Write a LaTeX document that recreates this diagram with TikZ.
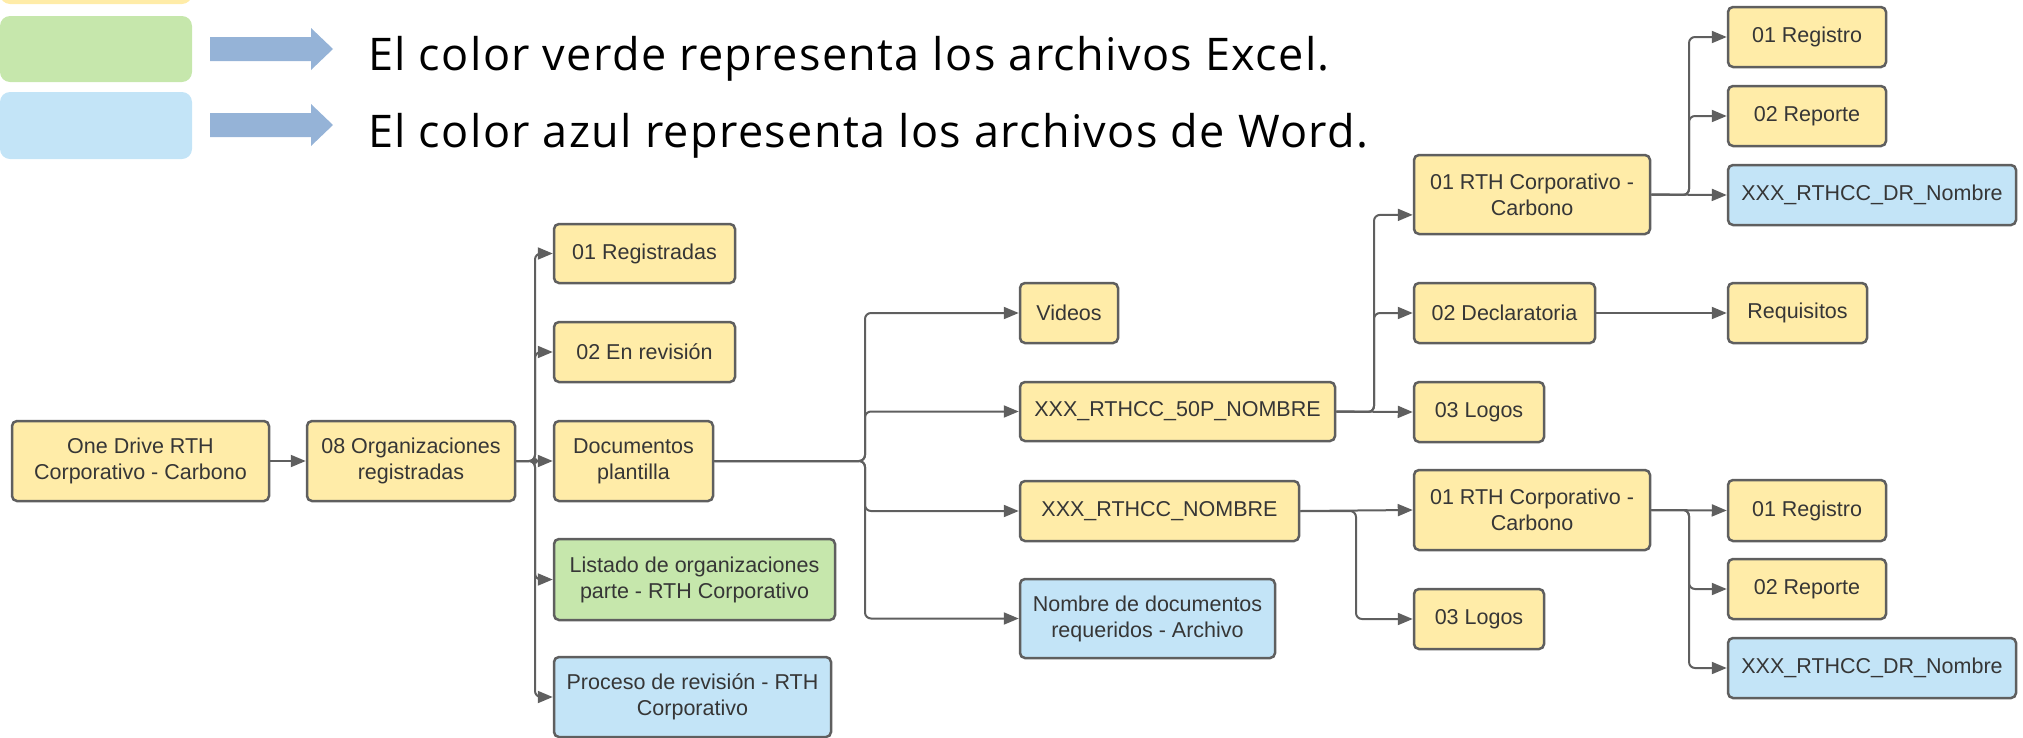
\documentclass[tikz,border=0pt]{standalone}
\usepackage{fontspec}
\setmainfont{Liberation Sans}
\newfontfamily\legendfont[LetterSpace=3]{Open Sans}
\usetikzlibrary{arrows.meta, calc}

\definecolor{fileyellow}{HTML}{FFECA8}
\definecolor{filegreen}{HTML}{C6E7AC}
\definecolor{fileblue}{HTML}{C3E4F7}
\definecolor{boxline}{HTML}{5F5F5F}
\definecolor{boxtext}{HTML}{363636}
\definecolor{legendarrow}{HTML}{95B3D7}

\begin{document}
\begin{tikzpicture}[x=1pt, y=-1pt, >={Triangle[length=15pt,width=12pt]}]

  % Styles for folders (yellow), Excel files (green) and Word files (blue)
  \tikzset{
    folder/.style={draw=boxline, line width=2.5pt, rounded corners=5pt, fill=fileyellow,
      text=boxtext, align=center, inner sep=0pt, font=\fontsize{21.5}{26}\selectfont},
    excel/.style={folder, fill=filegreen},
    word/.style={folder, fill=fileblue},
    link/.style={->, draw=boxline, line width=2pt, rounded corners=6pt},
    note/.style={anchor=base west, inner sep=0pt, font=\legendfont\fontsize{45}{50}\selectfont}
  }

  \useasboundingbox (0,0) rectangle (2023,737);
  \clip (0,0) rectangle (2023,737);

  % --- LEGEND ---
  \fill[fileyellow, rounded corners=10pt] (0,-40) rectangle (192,4);
  \fill[filegreen, rounded corners=10pt] (0,16) rectangle (192,82);
  \fill[fileblue, rounded corners=10pt] (0,92) rectangle (192,159);
  \fill[legendarrow] (210,37) -- (311,37) -- (311,28) -- (333,49) -- (311,70) -- (311,61) -- (210,61) -- cycle;
  \fill[legendarrow] (210,113) -- (311,113) -- (311,104) -- (333,125) -- (311,146) -- (311,137) -- (210,137) -- cycle;
  \node[note] (greennote) at (368,70) {El color verde representa los archivos Excel.};
  \node[note] (bluenote) at (368,147) {El color azul representa los archivos de Word.};

  % --- LEVEL 1 AND 2 ---
  \node[folder, minimum width=257pt, minimum height=80pt] (drive) at (140.5,461) {One Drive RTH\\Corporativo - Carbono};
  \node[folder, minimum width=208pt, minimum height=80pt] (org) at (411,461) {08 Organizaciones\\registradas};

  % --- LEVEL 3 ---
  \node[folder, minimum width=181pt, minimum height=59pt] (reg) at (644.5,253.5) {01 Registradas};
  \node[folder, minimum width=181pt, minimum height=60pt] (rev) at (644.5,352) {02 En revisión};
  \node[folder, minimum width=159pt, minimum height=80pt] (tpl) at (633.5,461) {Documentos\\plantilla};
  \node[excel, minimum width=281pt, minimum height=81pt] (list) at (694.5,579.5) {Listado de organizaciones\\parte - RTH Corporativo};
  \node[word, minimum width=277pt, minimum height=80pt] (proc) at (692.5,697) {Proceso de revisión - RTH\\Corporativo};

  % --- LEVEL 4 ---
  \node[folder, minimum width=98pt, minimum height=60pt] (videos) at (1069,313) {Videos};
  \node[folder, minimum width=315pt, minimum height=59pt] (p50) at (1177.5,411.5) {XXX\_RTHCC\_50P\_NOMBRE};
  \node[folder, minimum width=279pt, minimum height=60pt] (nom) at (1159.5,511) {XXX\_RTHCC\_NOMBRE};
  \node[word, minimum width=255pt, minimum height=79pt] (docs) at (1147.5,618.5) {Nombre de documentos\\requeridos - Archivo};

  % --- LEVEL 5 ---
  \node[folder, minimum width=236pt, minimum height=79pt] (rthA) at (1532,194.5) {01 RTH Corporativo -\\Carbono};
  \node[folder, minimum width=181pt, minimum height=60pt] (decl) at (1504.5,313) {02 Declaratoria};
  \node[folder, minimum width=130pt, minimum height=60pt] (logA) at (1479,412) {03 Logos};
  \node[folder, minimum width=236pt, minimum height=80pt] (rthB) at (1532,510) {01 RTH Corporativo -\\Carbono};
  \node[folder, minimum width=130pt, minimum height=60pt] (logB) at (1479,619) {03 Logos};

  % --- LEVEL 6 ---
  \node[folder, minimum width=158pt, minimum height=60pt] (regA) at (1807,37) {01 Registro};
  \node[folder, minimum width=158pt, minimum height=60pt] (repA) at (1807,116) {02 Reporte};
  \node[word, minimum width=288pt, minimum height=60pt] (drA) at (1872,195) {XXX\_RTHCC\_DR\_Nombre};
  \node[folder, minimum width=139pt, minimum height=60pt] (req) at (1797.5,313) {Requisitos};
  \node[folder, minimum width=158pt, minimum height=61pt] (regB) at (1807,510.5) {01 Registro};
  \node[folder, minimum width=158pt, minimum height=60pt] (repB) at (1807,589) {02 Reporte};
  \node[word, minimum width=288pt, minimum height=60pt] (drB) at (1872,668) {XXX\_RTHCC\_DR\_Nombre};

  % --- BRANCH POINTS ---
  \coordinate (jorg) at (535,461);
  \coordinate (jtpl) at (865,461);
  \coordinate (jp50) at (1374,412);
  \coordinate (jnom) at (1356,511);
  \coordinate (jrthA) at (1689,195);
  \coordinate (jrthB) at (1689,510);
  \coordinate (rthAin) at ($(rthA.south west)!0.25!(rthA.north west)$);

  % --- DRAWING LINES ---
  \draw[link] (drive) -- (org);
  \draw[link] (org.east) -- (tpl.west);
  \foreach \n in {reg, rev, list, proc}
    \draw[link] (org.east) -- (jorg) |- (\n.west);
  \fill[boxline] (jorg) circle (3pt);

  \foreach \n in {videos, p50, nom, docs}
    \draw[link] (tpl.east) -- (jtpl) |- (\n.west);

  \draw[link] (p50.east) -- (logA.west);
  \draw[link] (p50.east) -- (jp50) |- (rthAin);
  \draw[link] (p50.east) -- (jp50) |- (decl.west);

  \draw[link] (rthA.east) -- (drA.west);
  \foreach \n in {regA, repA}
    \draw[link] (rthA.east) -- (jrthA) |- (\n.west);
  \draw[link] (decl) -- (req);

  \draw[link] (nom.east) -- (rthB.west);
  \draw[link] (nom.east) -- (jnom) |- (logB.west);

  \draw[link] (rthB.east) -- (regB.west);
  \foreach \n in {repB, drB}
    \draw[link] (rthB.east) -- (jrthB) |- (\n.west);

\end{tikzpicture}
\end{document}
